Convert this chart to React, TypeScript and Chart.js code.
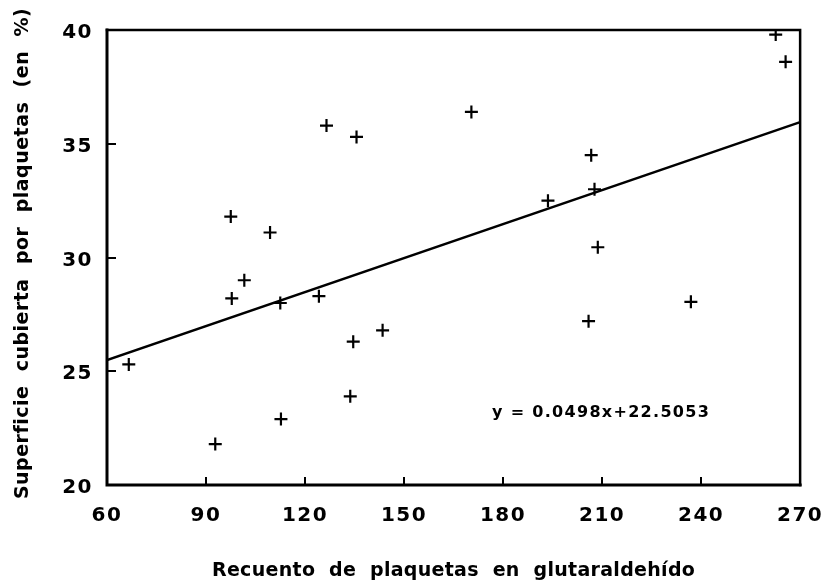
import React, { useEffect, useRef } from 'react';
import { Chart, registerables } from 'chart.js';

Chart.register(...registerables);

// Data
const platelets = [66.6, 92.8, 97.5, 109.4, 101.6, 97.8, 112.5, 124.2, 112.7, 133.7, 134.6, 143.5, 126.5, 135.6, 170.4, 206.7, 193.6, 207.7, 208.7, 262.6, 265.6, 205.9, 236.9];
const coverage = [25.3, 21.8, 31.8, 31.1, 29.0, 28.2, 28.0, 28.3, 22.9, 23.9, 26.3, 26.8, 35.8, 35.3, 36.4, 34.5, 32.5, 33.0, 30.45, 39.8, 38.6, 27.2, 28.05];

const slope = 0.0498;
const intercept = 22.5053;

const xTicks = [60, 90, 120, 150, 180, 210, 240, 270];
const yTicks = [20, 25, 30, 35, 40];

const xTitle = 'Recuento  de  plaquetas  en  glutaraldehído';
const yTitle = 'Superficie  cubierta  por  plaquetas  (en  %)';
const equationText = 'y = 0.0498x+22.5053';
const equationAnchor = { x: 209.7, y: 23.0 };

const FONT = '"DejaVu Sans", "Liberation Sans", sans-serif';

const framePlugin = {
  id: 'frame',
  beforeDraw(chart: any) {
    (chart.ctx as any).letterSpacing = '1.5px';
  },
  afterDraw(chart: any) {
    const { ctx, chartArea: a, scales } = chart;
    ctx.save();
    ctx.strokeStyle = '#000';
    ctx.lineCap = 'square';
    // top and right borders
    ctx.lineWidth = 2.5;
    ctx.beginPath();
    ctx.moveTo(a.left, a.top);
    ctx.lineTo(a.right, a.top);
    ctx.lineTo(a.right, a.bottom);
    ctx.stroke();
    // left and bottom axes
    ctx.lineWidth = 3;
    ctx.beginPath();
    ctx.moveTo(a.left, a.top);
    ctx.lineTo(a.left, a.bottom);
    ctx.lineTo(a.right, a.bottom);
    ctx.stroke();
    // inward tick marks
    ctx.lineWidth = 2;
    ctx.lineCap = 'butt';
    ctx.beginPath();
    xTicks.slice(1, -1).forEach((v) => {
      const px = Math.round(scales.x.getPixelForValue(v));
      ctx.moveTo(px, a.bottom);
      ctx.lineTo(px, a.bottom - 8);
    });
    yTicks.slice(1, -1).forEach((v) => {
      const py = Math.round(scales.y.getPixelForValue(v));
      ctx.moveTo(a.left, py);
      ctx.lineTo(a.left + 9, py);
    });
    ctx.stroke();

    // texts
    ctx.fillStyle = '#000';
    ctx.textAlign = 'center';
    ctx.textBaseline = 'alphabetic';
    (ctx as any).letterSpacing = '0.3px';
    ctx.font = `bold 19px ${FONT}`;
    ctx.fillText(xTitle, (a.left + a.right) / 2, chart.height - 4);

    (ctx as any).letterSpacing = '0.5px';
    ctx.save();
    ctx.translate(28, (a.top + a.bottom) / 2 - 4);
    ctx.rotate(-Math.PI / 2);
    ctx.fillText(yTitle, 0, 0);
    ctx.restore();

    (ctx as any).letterSpacing = '1.3px';
    ctx.font = `bold 16px ${FONT}`;
    ctx.fillText(
      equationText,
      scales.x.getPixelForValue(equationAnchor.x),
      scales.y.getPixelForValue(equationAnchor.y)
    );
    (ctx as any).letterSpacing = '0px';
    ctx.restore();
  },
};

export default function App() {
  const ref = useRef<HTMLCanvasElement>(null);

  useEffect(() => {
    document.body.style.margin = '0';
    const canvas = ref.current;
    if (!canvas) return;
    const points = platelets.map((x, i) => ({ x, y: coverage[i] }));
    const fit = [60, 270].map((x) => ({ x, y: slope * x + intercept }));

    const chart = new Chart(canvas, {
      type: 'scatter',
      data: {
        datasets: [
          {
            type: 'scatter',
            data: points,
            pointStyle: 'cross',
            pointRadius: 6.5,
            pointBorderWidth: 2.2,
            borderColor: '#000',
            backgroundColor: '#000',
          } as any,
          {
            type: 'line',
            data: fit,
            borderColor: '#000',
            borderWidth: 2.5,
            pointRadius: 0,
            fill: false,
          } as any,
        ],
      },
      options: {
        responsive: false,
        animation: false,
        devicePixelRatio: 1,
        layout: { padding: { top: 30, right: 26, left: 0, bottom: 0 } },
        plugins: {
          legend: { display: false },
          tooltip: { enabled: false },
        },
        scales: {
          x: {
            type: 'linear',
            min: 60,
            max: 270,
            afterBuildTicks: (s: any) => {
              s.ticks = xTicks.map((v) => ({ value: v }));
            },
            afterFit: (s: any) => {
              s.height = 95;
            },
            ticks: {
              color: '#000',
              font: { family: FONT, size: 20, weight: 'bold' },
              padding: 19,
              maxRotation: 0,
              autoSkip: false,
            },
            grid: { display: false, drawTicks: false },
            border: { display: false },
          },
          y: {
            type: 'linear',
            min: 20,
            max: 40,
            afterBuildTicks: (s: any) => {
              s.ticks = yTicks.map((v) => ({ value: v }));
            },
            afterFit: (s: any) => {
              s.width = 107;
            },
            ticks: {
              color: '#000',
              font: { family: FONT, size: 20, weight: 'bold' },
              padding: 14,
              labelOffset: 3,
              autoSkip: false,
            },
            grid: { display: false, drawTicks: false },
            border: { display: false },
          },
        },
      },
      plugins: [framePlugin],
    });
    return () => chart.destroy();
  }, []);

  return (
    <div style={{ width: 840, height: 580, position: 'relative' }}>
      <canvas ref={ref} width={840} height={580} />
    </div>
  );
}
